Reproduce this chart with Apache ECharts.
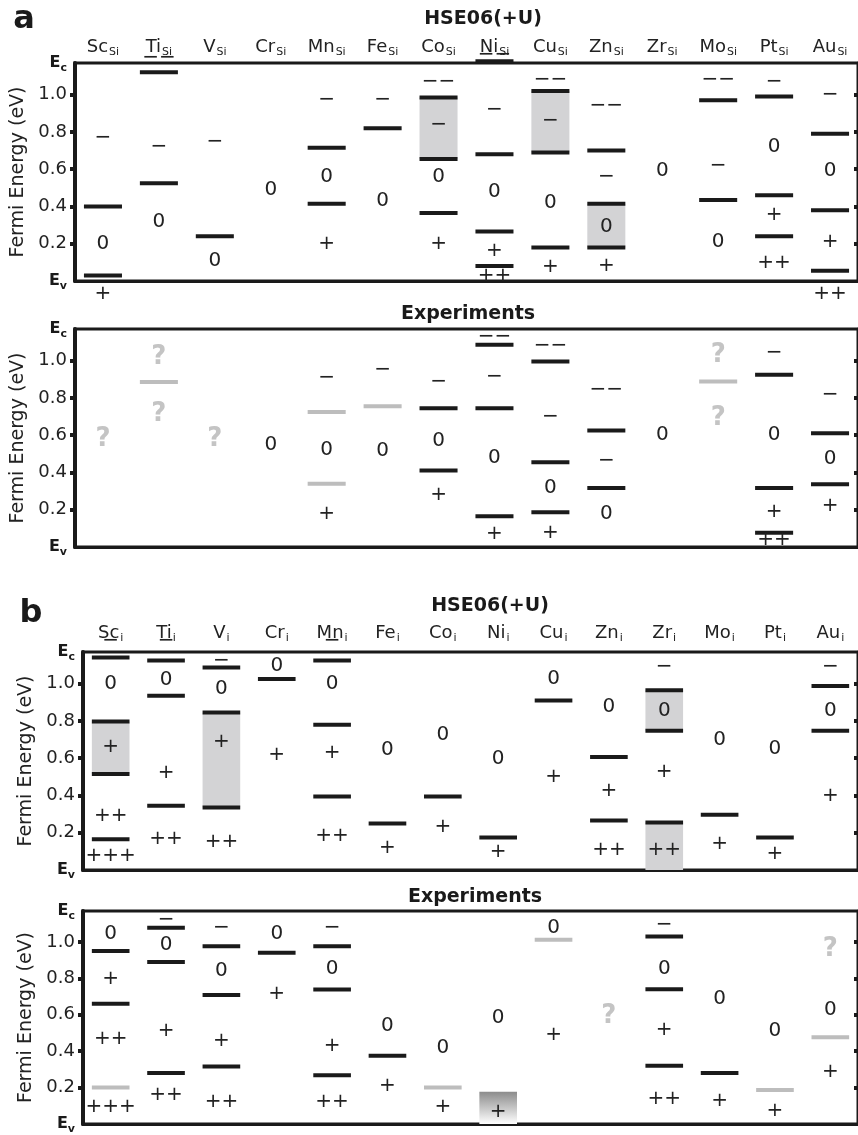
<!DOCTYPE html>
<html><head><meta charset="utf-8">
<script src="https://cdn.jsdelivr.net/npm/echarts@6/dist/echarts.min.js"></script>
<style>html,body{margin:0;padding:0;background:#fff}#c{width:858px;height:1135px}</style>
</head><body><div id="c"></div>
<script>
// ---------- categories ----------
const elements = ['Sc','Ti','V','Cr','Mn','Fe','Co','Ni','Cu','Zn','Zr','Mo','Pt','Au'];
const subSubstitutional = 'Si';
const subInterstitial = 'i';
const EC = 1.17; // conduction band edge (eV above Ev)
const yTickValues = [0.2, 0.4, 0.6, 0.8, 1.0];
const yLabelValues = [0, 0.2, 0.4, 0.6, 0.8, 1.0, 1.17];

// ---------- panel a : HSE06(+U), substitutional ----------
const hseSiLevels = [[0,0.40],[0,0.03],[1,1.12],[1,0.525],[2,0.24],[4,0.715],[4,0.415],[5,0.82],
  [6,0.985],[6,0.655],[6,0.365],[7,1.18],[7,0.68],[7,0.265],[7,0.08],[8,1.02],[8,0.69],[8,0.18],
  [9,0.70],[9,0.415],[9,0.18],[11,0.97],[11,0.435],[12,0.99],[12,0.46],[12,0.24],[13,0.79],[13,0.38],[13,0.055]];
const hseSiRegions = [[6,0.655,0.985],[8,0.69,1.02],[9,0.18,0.415]];
const hseSiCharges = [[0,0.77,'−'],[0,0.20,'0'],[0,-0.07,'+'],
  [1,1.20,'−−'],[1,0.72,'−'],[1,0.32,'0'],
  [2,0.745,'−'],[2,0.11,'0'],
  [3,0.49,'0'],
  [4,0.97,'−'],[4,0.56,'0'],[4,0.20,'+'],
  [5,0.97,'−'],[5,0.43,'0'],
  [6,1.07,'−−'],[6,0.84,'−'],[6,0.56,'0'],[6,0.20,'+'],
  [7,1.215,'−−'],[7,0.92,'−'],[7,0.48,'0'],[7,0.16,'+'],[7,0.03,'++'],
  [8,1.08,'−−'],[8,0.86,'−'],[8,0.42,'0'],[8,0.075,'+'],
  [9,0.94,'−−'],[9,0.56,'−'],[9,0.29,'0'],[9,0.08,'+'],
  [10,0.59,'0'],
  [11,1.08,'−−'],[11,0.62,'−'],[11,0.21,'0'],
  [12,1.07,'−'],[12,0.72,'0'],[12,0.355,'+'],[12,0.10,'++'],
  [13,1.0,'−'],[13,0.59,'0'],[13,0.21,'+'],[13,-0.07,'++']];

// ---------- panel a : Experiments, substitutional ----------
const expSiLevels = [[6,0.745],[6,0.41],[7,1.085],[7,0.745],[7,0.165],[8,0.995],[8,0.455],[8,0.187],
  [9,0.625],[9,0.317],[12,0.925],[12,0.317],[12,0.077],[13,0.61],[13,0.337]];
const expSiGrayLevels = [[1,0.885],[4,0.725],[4,0.34],[5,0.755],[11,0.888]];
const expSiCharges = [[3,0.55,'0'],
  [4,0.91,'−'],[4,0.52,'0'],[4,0.18,'+'],
  [5,0.95,'−'],[5,0.515,'0'],
  [6,0.885,'−'],[6,0.57,'0'],[6,0.28,'+'],
  [7,1.13,'−−'],[7,0.915,'−'],[7,0.48,'0'],[7,0.07,'+'],
  [8,1.08,'−−'],[8,0.70,'−'],[8,0.32,'0'],[8,0.077,'+'],
  [9,0.845,'−−'],[9,0.46,'−'],[9,0.177,'0'],
  [10,0.60,'0'],
  [12,1.04,'−'],[12,0.60,'0'],[12,0.19,'+'],[12,0.04,'++'],
  [13,0.815,'−'],[13,0.475,'0'],[13,0.22,'+']];
const expSiUnknown = [[0,0.58,'?'],[1,1.02,'?'],[1,0.71,'?'],[2,0.58,'?'],[11,1.03,'?'],[11,0.69,'?']];

// ---------- panel b : HSE06(+U), interstitial ----------
const hseILevels = [[0,1.14],[0,0.797],[0,0.515],[0,0.165],[1,1.125],[1,0.935],[1,0.345],
  [2,1.087],[2,0.845],[2,0.336],[3,1.025],[4,1.125],[4,0.78],[4,0.395],[5,0.25],[6,0.395],[7,0.175],
  [8,0.91],[9,0.607],[9,0.265],[10,0.965],[10,0.747],[10,0.255],[11,0.297],[12,0.175],[13,0.988],[13,0.747]];
const hseIRegions = [[0,0.515,0.797],[2,0.336,0.845],[10,0.747,0.965],[10,0,0.255]];
const hseICharges = [[0,1.23,'−'],[0,1.0,'0'],[0,0.66,'+'],[0,0.29,'++'],[0,0.075,'+++'],
  [1,1.23,'−'],[1,1.02,'0'],[1,0.52,'+'],[1,0.165,'++'],
  [2,1.125,'−'],[2,0.97,'0'],[2,0.69,'+'],[2,0.15,'++'],
  [3,1.095,'0'],[3,0.62,'+'],
  [4,1.23,'−'],[4,1.0,'0'],[4,0.63,'+'],[4,0.185,'++'],
  [5,0.645,'0'],[5,0.12,'+'],
  [6,0.725,'0'],[6,0.23,'+'],
  [7,0.595,'0'],[7,0.10,'+'],
  [8,1.025,'0'],[8,0.50,'+'],
  [9,0.875,'0'],[9,0.425,'+'],[9,0.11,'++'],
  [10,1.09,'−'],[10,0.855,'0'],[10,0.525,'+'],[10,0.11,'++'],
  [11,0.70,'0'],[11,0.14,'+'],
  [12,0.65,'0'],[12,0.085,'+'],
  [13,1.09,'−'],[13,0.855,'0'],[13,0.40,'+']];

// ---------- panel b : Experiments, interstitial ----------
const expILevels = [[0,0.95],[0,0.66],[1,1.078],[1,0.89],[1,0.28],[2,0.976],[2,0.708],[2,0.316],
  [3,0.94],[4,0.976],[4,0.739],[4,0.268],[5,0.375],[10,1.03],[10,0.74],[10,0.32],[11,0.28]];
const expIGrayLevels = [[0,0.20],[6,0.20],[8,1.012],[12,0.187],[13,0.476]];
const expIFadeRegions = [[7,0,0.177]];
const expICharges = [[0,1.047,'0'],[0,0.80,'+'],[0,0.467,'++'],[0,0.093,'+++'],
  [1,1.12,'−'],[1,0.985,'0'],[1,0.512,'+'],[1,0.16,'++'],
  [2,1.08,'−'],[2,0.842,'0'],[2,0.459,'+'],[2,0.12,'++'],
  [3,1.047,'0'],[3,0.717,'+'],
  [4,1.08,'−'],[4,0.851,'0'],[4,0.427,'+'],[4,0.12,'++'],
  [5,0.539,'0'],[5,0.209,'+'],
  [6,0.419,'0'],[6,0.093,'+'],
  [7,0.583,'0'],[7,0.066,'+'],
  [8,1.08,'0'],[8,0.49,'+'],
  [10,1.092,'−'],[10,0.851,'0'],[10,0.52,'+'],[10,0.137,'++'],
  [11,0.69,'0'],[11,0.128,'+'],
  [12,0.512,'0'],[12,0.075,'+'],
  [13,0.625,'0'],[13,0.289,'+']];
const expIUnknown = [[9,0.593,'?'],[13,0.958,'?']];

// ---------- style ----------
const FONT = 'DejaVu Sans';
const INK = '#1a1a1a';
const GRAY_LINE = '#bdbdbd';
const REGION = '#d3d3d5';

function levelSeries(g, data, color) {
  return {type:'custom', xAxisIndex:g, yAxisIndex:g*2, clip:false, z:4, silent:true,
    data: data.map(d => [d[0], d[1]]),
    renderItem(params, api) {
      const p = api.coord([api.value(0), api.value(1)]);
      const w = api.size([1, 0])[0] * 0.68;
      return {type:'rect', shape:{x:p[0]-w/2, y:p[1]-2, width:w, height:4}, style:{fill:color}};
    }};
}
function regionSeries(g, data, fill) {
  return {type:'custom', xAxisIndex:g, yAxisIndex:g*2, clip:false, z:2, silent:true,
    data: data.map(d => [d[0], d[1], d[2]]),
    renderItem(params, api) {
      const lo = api.coord([api.value(0), api.value(1)]);
      const hi = api.coord([api.value(0), api.value(2)]);
      const w = api.size([1, 0])[0] * 0.68;
      return {type:'rect', shape:{x:lo[0]-w/2, y:hi[1], width:w, height:lo[1]-hi[1]}, style:{fill:fill}};
    }};
}
function textSeries(g, data, font, color) {
  return {type:'custom', xAxisIndex:g, yAxisIndex:g*2, clip:false, z:5, silent:true,
    data: data.map(d => [d[0], d[1]]),
    renderItem(params, api) {
      const d = data[params.dataIndex];
      const p = api.coord([d[0], d[1]]);
      return {type:'text', x:p[0], y:p[1],
        style:{text:d[2], font:font, fill:color, textAlign:'center', textVerticalAlign:'middle', align:'center', verticalAlign:'middle'}};
    }};
}

const grids = [
  {left:75, top:63, width:784, height:218},
  {left:75, top:329, width:784, height:218},
  {left:83, top:652, width:784, height:218},
  {left:83, top:911, width:784, height:218}
];
const labelSubs = [subSubstitutional, null, subInterstitial, null];
const labelMargins = [7, 0, 10, 0];

const option = {
  animation:false,
  backgroundColor:'#fff',
  grid: grids.map(g => Object.assign({show:true, borderColor:INK, borderWidth:3, backgroundColor:'transparent'}, g)),
  xAxis: grids.map((g, i) => ({
    type:'category', gridIndex:i, data:elements, position:'top', boundaryGap:true,
    axisTick:{show:false}, splitLine:{show:false},
    axisLine:{show:true, lineStyle:{color:INK, width:3}},
    axisLabel:{show: !!labelSubs[i], margin: labelMargins[i], interval:0,
      formatter: v => '{m|' + v + '}{s|' + (labelSubs[i] || '') + '}',
      rich:{m:{fontFamily:FONT, fontSize:18, color:'#222'},
            s:{fontFamily:FONT, fontSize:11, color:'#222', verticalAlign:'bottom', padding:[0,0,-2,1]}}}
  })),
  yAxis: grids.flatMap((g, i) => [
    {type:'value', gridIndex:i, min:0, max:EC, position:'left', splitLine:{show:false},
     axisLine:{show:true, lineStyle:{color:INK, width:4}},
     axisTick:{show:true, inside:false, length:5, customValues:yTickValues, lineStyle:{color:INK, width:4}},
     axisLabel:{customValues:yLabelValues, margin:8, fontFamily:FONT, fontSize:18, color:'#222',
       formatter: v => v === 0 ? '{e|E}{s|v}' : (v > 1.1 ? '{e|E}{s|c}' : v.toFixed(1)),
       rich:{e:{fontFamily:FONT, fontWeight:'bold', fontSize:16, color:INK},
             s:{fontFamily:FONT, fontWeight:'bold', fontSize:11, color:INK, verticalAlign:'bottom', padding:[0,0,-3,0]}}},
     name:'Fermi Energy (eV)', nameLocation:'middle', nameGap:41, nameRotate:90,
     nameTextStyle:{fontFamily:FONT, fontSize:19, color:'#222'}},
    {type:'value', gridIndex:i, min:0, max:EC, position:'right', splitLine:{show:false},
     axisLine:{show:true, lineStyle:{color:INK, width:3}},
     axisTick:{show:true, inside:true, length:4, customValues:yTickValues, lineStyle:{color:INK, width:4}},
     axisLabel:{show:false}}
  ]),
  graphic: [
    {type:'text', x:24, y:20, style:{text:'a', font:'bold 32px ' + FONT, fill:INK, textAlign:'center', textVerticalAlign:'middle', align:'center', verticalAlign:'middle'}},
    {type:'text', x:483, y:19, style:{text:'HSE06(+U)', font:'bold 19px ' + FONT, fill:INK, textAlign:'center', textVerticalAlign:'middle', align:'center', verticalAlign:'middle'}},
    {type:'text', x:468, y:314, style:{text:'Experiments', font:'bold 19px ' + FONT, fill:INK, textAlign:'center', textVerticalAlign:'middle', align:'center', verticalAlign:'middle'}},
    {type:'text', x:31, y:614, style:{text:'b', font:'bold 32px ' + FONT, fill:INK, textAlign:'center', textVerticalAlign:'middle', align:'center', verticalAlign:'middle'}},
    {type:'text', x:490, y:606, style:{text:'HSE06(+U)', font:'bold 19px ' + FONT, fill:INK, textAlign:'center', textVerticalAlign:'middle', align:'center', verticalAlign:'middle'}},
    {type:'text', x:475, y:897, style:{text:'Experiments', font:'bold 19px ' + FONT, fill:INK, textAlign:'center', textVerticalAlign:'middle', align:'center', verticalAlign:'middle'}}
  ],
  series: [
    regionSeries(0, hseSiRegions, REGION),
    levelSeries(0, hseSiLevels, INK),
    textSeries(0, hseSiCharges, '20px ' + FONT, '#222'),

    levelSeries(1, expSiLevels, INK),
    levelSeries(1, expSiGrayLevels, GRAY_LINE),
    textSeries(1, expSiCharges, '20px ' + FONT, '#222'),
    textSeries(1, expSiUnknown, 'bold 26px ' + FONT, '#c4c4c4'),

    regionSeries(2, hseIRegions, REGION),
    levelSeries(2, hseILevels, INK),
    textSeries(2, hseICharges, '20px ' + FONT, '#222'),

    regionSeries(3, expIFadeRegions, {type:'linear', x:0, y:0, x2:0, y2:1,
      colorStops:[{offset:0, color:'#8c8c8c'}, {offset:1, color:'#ffffff'}]}),
    levelSeries(3, expILevels, INK),
    levelSeries(3, expIGrayLevels, GRAY_LINE),
    textSeries(3, expICharges, '20px ' + FONT, '#222'),
    textSeries(3, expIUnknown, 'bold 26px ' + FONT, '#c4c4c4')
  ]
};
const chart = echarts.init(document.getElementById('c'), null, {renderer:'canvas'});
chart.setOption(option);
</script>
</body></html>
